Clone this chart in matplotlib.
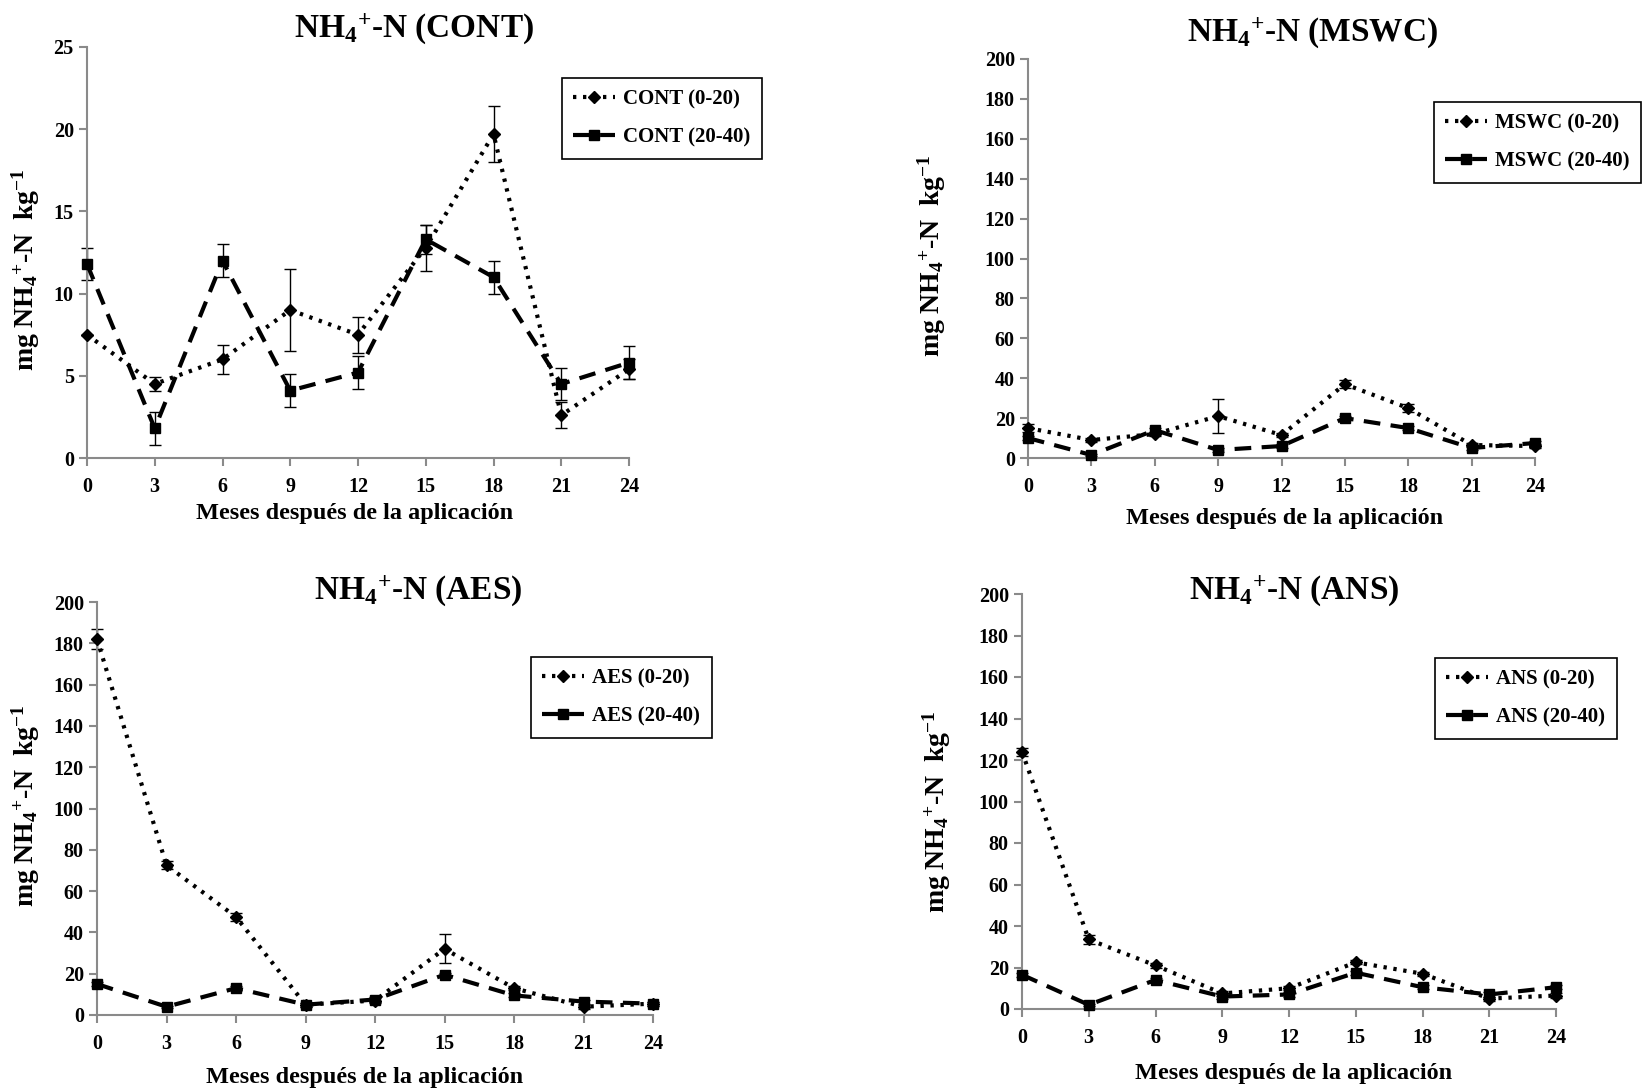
import numpy as np
import matplotlib
matplotlib.use("Agg")
import matplotlib.pyplot as plt

plt.rcParams['font.family'] = ['Liberation Serif', 'DejaVu Serif']
plt.rcParams['font.weight'] = 'bold'
plt.rcParams['mathtext.fontset'] = 'custom'
plt.rcParams['mathtext.rm'] = 'Liberation Serif:bold'
plt.rcParams['mathtext.bf'] = 'Liberation Serif:bold'
plt.rcParams['mathtext.it'] = 'Liberation Serif:bold'
plt.rcParams['mathtext.default'] = 'rm'

meses = [0, 3, 6, 9, 12, 15, 18, 21, 24]

# CONT
cont_0_20 = [7.5, 4.5, 6.0, 9.0, 7.5, 12.8, 19.7, 2.6, 5.4]
cont_0_20_err = [0.0, 0.4, 0.9, 2.5, 1.1, 1.4, 1.7, 0.8, 0.6]
cont_20_40 = [11.8, 1.8, 12.0, 4.1, 5.2, 13.3, 11.0, 4.5, 5.8]
cont_20_40_err = [1.0, 1.0, 1.0, 1.0, 1.0, 0.9, 1.0, 1.0, 1.0]

# MSWC
mswc_0_20 = [15, 9, 12, 21, 11.5, 37, 25, 6.5, 6]
mswc_0_20_err = [2, 1, 1, 8.5, 1, 2, 2, 1, 1]
mswc_20_40 = [10, 1.5, 14, 4, 6, 20, 15, 5, 7.5]
mswc_20_40_err = [1, 0.5, 1, 1, 1, 1, 1, 1, 1]

# AES
aes_0_20 = [182, 72.5, 47.5, 5, 7, 32, 13, 4, 5.5]
aes_0_20_err = [5, 2, 2, 1, 1, 7, 1, 1, 1]
aes_20_40 = [15, 4, 13, 5, 7.5, 19.5, 9.5, 6.5, 5.5]
aes_20_40_err = [1, 0.5, 1, 1, 1, 1, 1, 1, 1]

# ANS
ans_0_20 = [124, 33.5, 21, 7.5, 10, 22.5, 17, 5, 6.5]
ans_0_20_err = [2, 2, 1, 1, 1, 1, 1, 1, 1]
ans_20_40 = [16.5, 2, 14, 6, 7, 17.5, 10.5, 7, 10.5]
ans_20_40_err = [1, 0.5, 1, 1, 1, 1, 1, 1, 1]

W, H = 1646, 1090
fig = plt.figure(figsize=(W / 100, H / 100), dpi=100)


def px(x0, x1, ytop, ybot):
    return [x0 / W, 1 - ybot / H, (x1 - x0) / W, (ybot - ytop) / H]


panels = [
    dict(name='CONT', a=cont_0_20, ae=cont_0_20_err, b=cont_20_40, be=cont_20_40_err,
         rect=px(87, 629, 47, 458), ymax=25, ystep=5,
         title=(414, 29), xlab=(355, 514), ylab=(26, 270), leg=(562, 78)),
    dict(name='MSWC', a=mswc_0_20, ae=mswc_0_20_err, b=mswc_20_40, be=mswc_20_40_err,
         rect=px(1028, 1535, 59, 458), ymax=200, ystep=20,
         title=(1313, 33), xlab=(1285, 518), ylab=(932, 256), leg=(1434, 102)),
    dict(name='AES', a=aes_0_20, ae=aes_0_20_err, b=aes_20_40, be=aes_20_40_err,
         rect=px(97, 653, 602, 1015), ymax=200, ystep=20,
         title=(418, 591), xlab=(365, 1077), ylab=(26, 806), leg=(531, 657)),
    dict(name='ANS', a=ans_0_20, ae=ans_0_20_err, b=ans_20_40, be=ans_20_40_err,
         rect=px(1022, 1556, 594, 1009), ymax=200, ystep=20,
         title=(1294, 591), xlab=(1294, 1074), ylab=(937, 812), leg=(1435, 658)),
]

gray = '#8a8a8a'

for p in panels:
    ax = fig.add_axes(p['rect'])
    la, = ax.plot(meses, p['a'], linestyle=(0, (0.8, 1.6)), color='black', lw=3,
                  marker='D', ms=6.5, label=p['name'] + ' (0-20)', clip_on=False, zorder=3)
    ax.errorbar(meses, p['a'], yerr=p['ae'], fmt='none', ecolor='black',
                elinewidth=1, capsize=4, capthick=1, clip_on=False, zorder=2)
    lb, = ax.plot(meses, p['b'], linestyle=(0, (4, 2.5)), color='black', lw=3,
                  marker='s', ms=7, label=p['name'] + ' (20-40)', clip_on=False, zorder=3)
    ax.errorbar(meses, p['b'], yerr=p['be'], fmt='none', ecolor='black',
                elinewidth=1, capsize=4, capthick=1, clip_on=False, zorder=2)

    ax.set_xlim(0, 24)
    ax.set_ylim(0, p['ymax'])
    ax.set_xticks(meses)
    ax.set_yticks(np.arange(0, p['ymax'] + 1, p['ystep']))
    for s in ['top', 'right']:
        ax.spines[s].set_visible(False)
    for s in ['left', 'bottom']:
        ax.spines[s].set_color(gray)
        ax.spines[s].set_linewidth(1.5)
    ax.tick_params(axis='both', direction='out', color=gray, width=1.5, length=6,
                   labelsize=14.5)
    ax.tick_params(axis='x', pad=8)
    for t in ax.get_xticklabels() + ax.get_yticklabels():
        t.set_fontweight('bold')

    fig.text(p['title'][0] / W, 1 - p['title'][1] / H, p['name'].join(['NH$_4$$^{+}$-N (', ')']),
             ha='center', va='center', fontsize=24, fontweight='bold')
    fig.text(p['xlab'][0] / W, 1 - p['xlab'][1] / H, 'Meses después de la aplicación',
             ha='center', va='center', fontsize=17.5, fontweight='bold')
    fig.text(p['ylab'][0] / W, 1 - p['ylab'][1] / H, 'mg NH$_4$$^{+}$-N  kg$^{-1}$',
             ha='center', va='center', rotation=90, fontsize=20, fontweight='bold')

    leg = fig.legend(handles=[la, lb], loc='upper left',
                     bbox_to_anchor=(p['leg'][0] / W, 1 - p['leg'][1] / H),
                     borderaxespad=0, frameon=True, fancybox=False, edgecolor='black',
                     framealpha=1, handlelength=2.0, handletextpad=0.4,
                     labelspacing=0.85, borderpad=0.55, prop={'weight': 'bold', 'size': 15})
    leg.get_frame().set_linewidth(1.2)

fig.savefig('out.png', dpi=100)
